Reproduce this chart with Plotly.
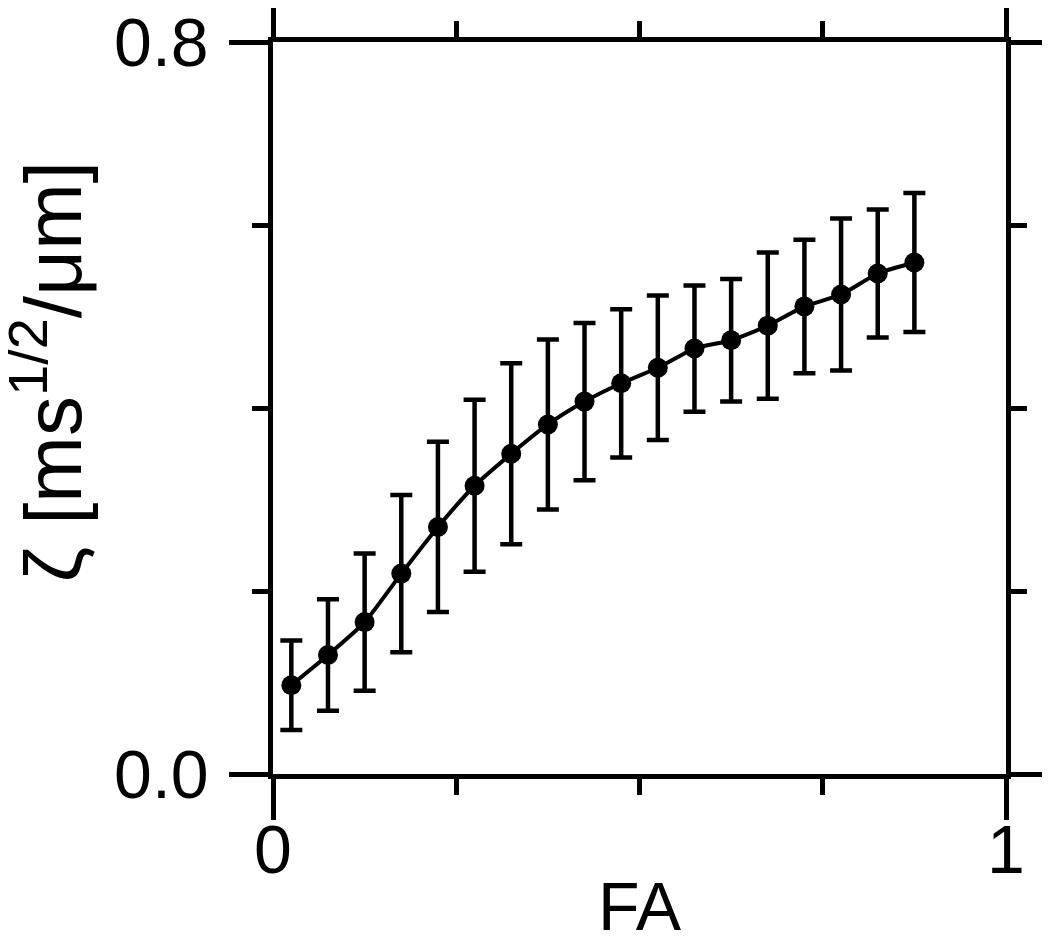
import plotly.graph_objects as go

# FA bins and the mean zeta per bin with its spread
fa = [0.025, 0.075, 0.125, 0.175, 0.225, 0.275, 0.325, 0.375, 0.425,
      0.475, 0.525, 0.575, 0.625, 0.675, 0.725, 0.775, 0.825, 0.875]
zeta = [0.097, 0.130, 0.166, 0.219, 0.270, 0.315, 0.350, 0.382, 0.407,
        0.427, 0.444, 0.465, 0.474, 0.490, 0.511, 0.524, 0.547, 0.559]
zeta_err = [0.049, 0.061, 0.075, 0.086, 0.093, 0.094, 0.099, 0.093, 0.086,
            0.081, 0.079, 0.069, 0.067, 0.080, 0.073, 0.083, 0.070, 0.076]

x_major = [0, 1]
x_major_text = ["0", "1"]
x_minor = [0.25, 0.5, 0.75]
y_major = [0, 0.8]
y_major_text = ["0.0", "0.8"]
y_minor = [0.2, 0.4, 0.6]

font = "Liberation Sans, Arial, sans-serif"

trace = go.Scatter(
    x=fa, y=zeta,
    mode="lines+markers",
    line=dict(color="black", width=4, shape="spline", smoothing=0.6),
    marker=dict(color="black", size=20),
    error_y=dict(type="data", array=zeta_err, visible=True,
                 color="black", thickness=4.5, width=11),
    showlegend=False,
)

fig = go.Figure(data=[trace])

axis_common = dict(
    showline=True, linecolor="black", linewidth=4.5, mirror="ticks",
    showgrid=False, zeroline=False, automargin=False,
    ticks="outside", tickwidth=4.5, tickcolor="black",
    ticklabeloverflow="allow",
    tickfont=dict(family=font, size=68, color="black"),
)

# page body adds ~8px offset, margins compensate for it
fig.update_layout(
    width=1050, height=943,
    margin=dict(l=265, r=52, t=34, b=177),
    paper_bgcolor="white", plot_bgcolor="white",
    xaxis=dict(range=[0, 1], tickvals=x_major, ticktext=x_major_text,
               ticklen=41, ticklabelstandoff=-28,
               minor=dict(tickvals=x_minor, ticks="outside", ticklen=16,
                          tickwidth=4.5, tickcolor="black"),
               **axis_common),
    yaxis=dict(range=[0, 0.8], tickvals=y_major, ticktext=y_major_text,
               ticklen=39, ticklabelstandoff=7,
               minor=dict(tickvals=y_minor, ticks="outside", ticklen=16,
                          tickwidth=4.5, tickcolor="black"),
               **axis_common),
    annotations=[
        dict(text="FA", xref="paper", yref="paper", x=0.5, y=-0.126,
             xanchor="center", yanchor="top", showarrow=False,
             font=dict(family=font, size=68, color="black")),
        dict(text="ζ [ms<sup>1/2</sup>/μm]", xref="paper", yref="paper",
             x=-0.308, y=0.549, xanchor="center", yanchor="middle",
             textangle=-90, showarrow=False,
             font=dict(family=font, size=80, color="black")),
    ],
)

fig.write_html("out.html")
